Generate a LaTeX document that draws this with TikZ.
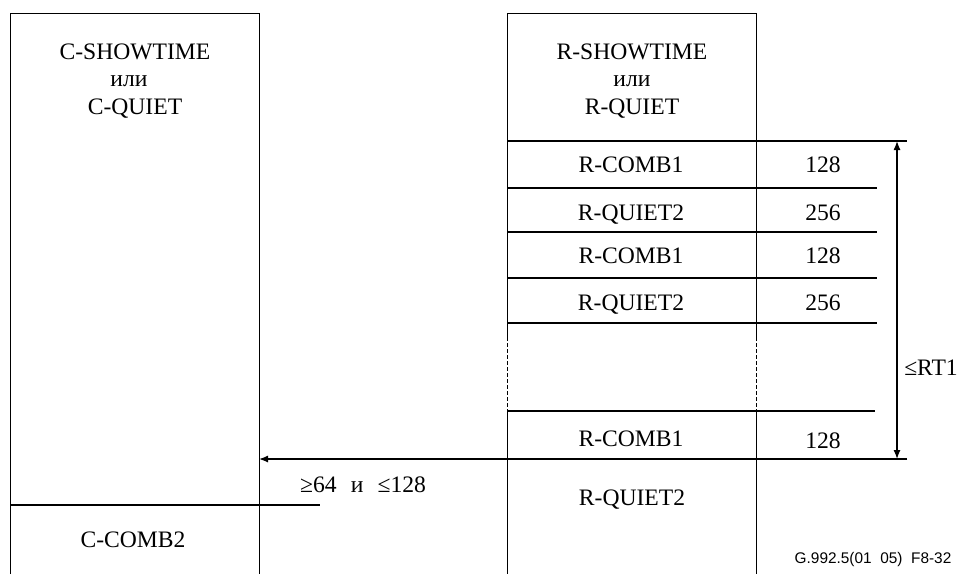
\documentclass[tikz,border=0pt]{standalone}
\usepackage{fontspec}
\setmainfont{Liberation Serif}
\newfontfamily\arialfont{Liberation Sans}
\usetikzlibrary{arrows.meta}
\begin{document}
\begin{tikzpicture}[x=1pt,y=-1pt,
  vline/.style={line width=1pt},
  hline/.style={line width=1.3pt},
  dline/.style={line width=1pt, dash pattern=on 4pt off 2pt},
  txt/.style={inner sep=0pt, anchor=base, font=\fontsize{23.6}{28}\selectfont},
  note/.style={inner sep=0pt, anchor=base, font=\arialfont\fontsize{15.4}{18}\selectfont},
  arr/.style={line width=1.3pt, -{Latex[length=9pt,width=7pt]}},
  darr/.style={line width=1.3pt, {Latex[length=9pt,width=7pt]}-{Latex[length=9pt,width=7pt]}}]
\useasboundingbox (0,0) rectangle (963,574);
% left box
\draw[vline] (10,574) -- (10,13) -- (259,13) -- (259,574);
\draw[hline] (10,505) -- (320,505);
% right box
\draw[vline] (507,337) -- (507,13) -- (756,13) -- (756,337);
\draw[dline] (507,337) -- (507,410);
\draw[dline] (756,337) -- (756,410);
\draw[vline] (507,410) -- (507,574);
\draw[vline] (756,410) -- (756,574);
\draw[hline] (507,141) -- (907,141);
\draw[hline] (507,188) -- (877,188);
\draw[hline] (507,232) -- (877,232);
\draw[hline] (507,278) -- (877,278);
\draw[hline] (507,323) -- (877,323);
\draw[hline] (507,411) -- (875,411);
% arrows
\coordinate (hs) at (907,459);
\coordinate (he) at (259,459);
\draw[hline] (hs) -- (507,459);
\draw[arr] (hs) -- (he);
\coordinate (vt) at (897,141);
\coordinate (vb) at (897,459);
\draw[darr] (vt) -- (vb);
% texts left
\node[txt] (c1) at (135,59) {C-SHOWTIME};
\node[txt] (c2) at (129,86) {или};
\node[txt] (c3) at (135,114) {C-QUIET};
\node[txt] (c4) at (133,547) {C-COMB2};
% texts right
\node[txt] (r1) at (632,59) {R-SHOWTIME};
\node[txt] (r2) at (632,86) {или};
\node[txt] (r3) at (632,114) {R-QUIET};
\node[txt] (a1) at (631,172) {R-COMB1};
\node[txt] (b1) at (823,172) {128};
\node[txt] (a2) at (631,220) {R-QUIET2};
\node[txt] (b2) at (823,220) {256};
\node[txt] (a3) at (631,263) {R-COMB1};
\node[txt] (b3) at (823,263) {128};
\node[txt] (a4) at (631,310) {R-QUIET2};
\node[txt] (b4) at (823,310) {256};
\node[txt] (a5) at (631,446) {R-COMB1};
\node[txt] (b5) at (823,448) {128};
\node[txt] (a6) at (632,505) {R-QUIET2};
\node[txt] (rt) at (931,375) {≤RT1};
\node[txt] (lim) at (363,492) {≥64\hspace{0.6em}и\hspace{0.6em}≤128};
\node[note] (fig) at (873,563) {G.992.5(01\hspace{0.556em}05)\hspace{0.556em}F8-32};
\end{tikzpicture}
\end{document}
